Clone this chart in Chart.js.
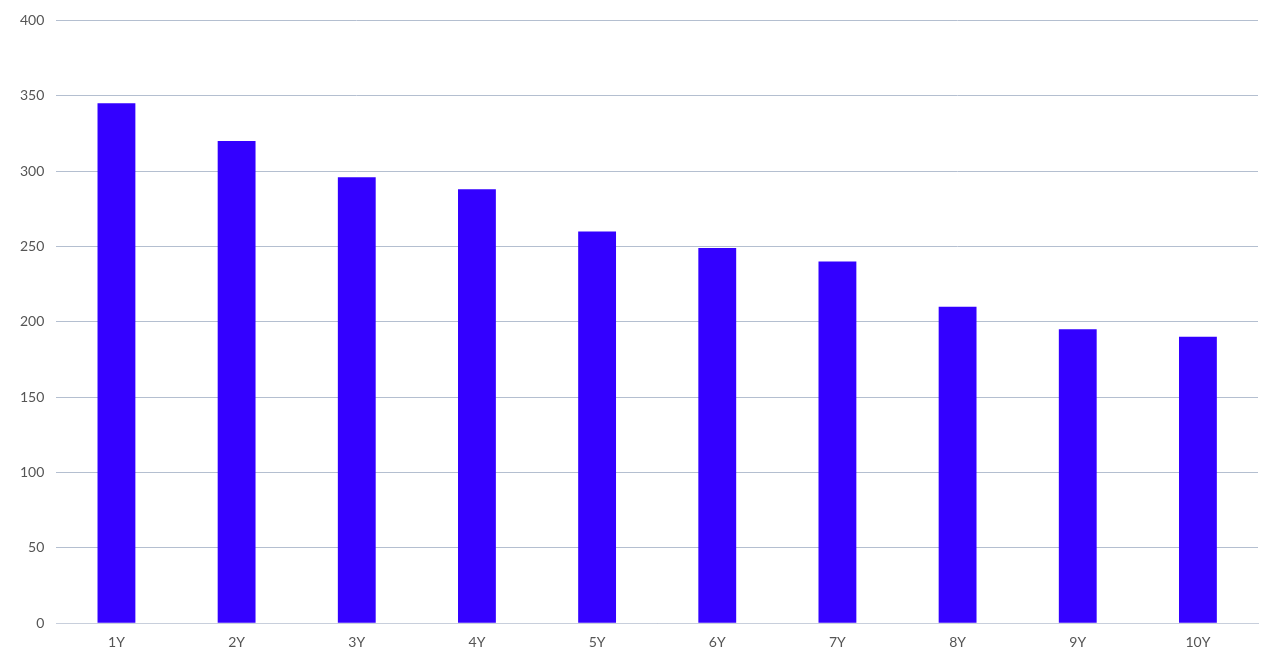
<!DOCTYPE html>
<html><head><meta charset="utf-8">
<script src="https://cdn.jsdelivr.net/npm/chart.js@4"></script>
<style>html,body{margin:0;padding:0;background:#fff}#w{width:1280px;height:665px}</style>
</head><body><div id="w"><canvas id="c"></canvas></div>
<script>
const categories=["1Y","2Y","3Y","4Y","5Y","6Y","7Y","8Y","9Y","10Y"];
const values=[345,320,296,288,260,249,240,210,195,190];
new Chart(document.getElementById('c'),{
type:'bar',
data:{labels:categories,datasets:[{data:values,backgroundColor:'#3300ff',categoryPercentage:1,barPercentage:0.315}]},
options:{responsive:true,maintainAspectRatio:false,animation:false,
layout:{padding:{top:9,right:22,left:8,bottom:11}},
plugins:{legend:{display:false},tooltip:{enabled:false}},
scales:{
x:{grid:{display:false},border:{color:'#c8cfdc'},ticks:{color:'#555',font:{family:'Lato',size:14}}},
y:{min:0,max:400,ticks:{stepSize:50,color:'#555',padding:12,font:{family:'Lato',size:14}},grid:{color:'#b4bfd0',tickLength:0},border:{display:false}}
}}});
</script></body></html>
